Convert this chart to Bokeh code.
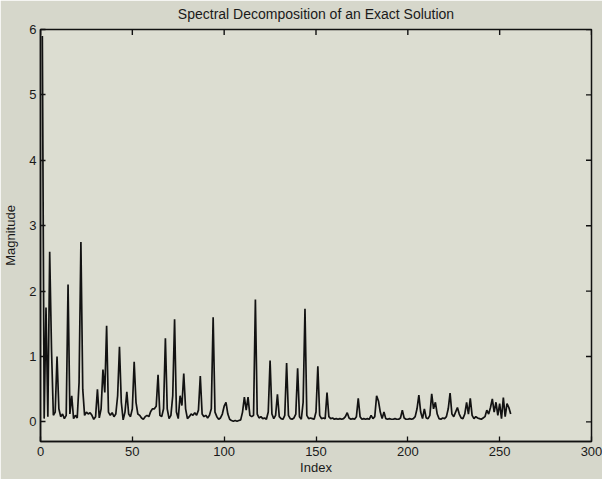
import math
from bokeh.plotting import figure
from bokeh.models import Range1d, FixedTicker, ColumnDataSource
from bokeh.embed import file_html
from bokeh.resources import INLINE

# ---- data -------------------------------------------------------------
index = list(range(1, 257))
magnitude = [
    5.90, 0.05, 1.75, 0.08, 2.60, 1.10, 0.10, 0.15, 1.00, 0.20,
    0.08, 0.12, 0.05, 0.10, 2.10, 0.12, 0.40, 0.05, 0.10, 0.06,
    0.60, 2.75, 0.50, 0.10, 0.15, 0.12, 0.14, 0.10, 0.04, 0.08,
    0.50, 0.06, 0.20, 0.80, 0.45, 1.47, 0.15, 0.10, 0.14, 0.08,
    0.12, 0.40, 1.15, 0.30, 0.03, 0.15, 0.46, 0.12, 0.08, 0.20,
    0.92, 0.30, 0.12, 0.10, 0.06, 0.04, 0.08, 0.10, 0.08, 0.16,
    0.20, 0.20, 0.24, 0.72, 0.10, 0.08, 0.20, 1.28, 0.20, 0.05,
    0.10, 0.40, 1.57, 0.15, 0.05, 0.40, 0.25, 0.74, 0.20, 0.05,
    0.08, 0.12, 0.10, 0.14, 0.10, 0.18, 0.70, 0.12, 0.08, 0.10,
    0.06, 0.10, 0.20, 1.60, 0.15, 0.08, 0.04, 0.06, 0.12, 0.24,
    0.30, 0.12, 0.04, 0.02, 0.01, 0.02, 0.01, 0.02, 0.03, 0.15,
    0.38, 0.18, 0.38, 0.10, 0.08, 0.10, 1.87, 0.12, 0.06, 0.08,
    0.05, 0.06, 0.04, 0.15, 0.94, 0.12, 0.05, 0.10, 0.42, 0.08,
    0.05, 0.04, 0.10, 0.90, 0.10, 0.05, 0.04, 0.06, 0.12, 0.82,
    0.08, 0.04, 0.30, 1.73, 0.10, 0.05, 0.06, 0.05, 0.04, 0.15,
    0.85, 0.10, 0.05, 0.06, 0.05, 0.45, 0.08, 0.05, 0.06, 0.04,
    0.05, 0.04, 0.05, 0.04, 0.05, 0.08, 0.14, 0.06, 0.04, 0.05,
    0.04, 0.08, 0.36, 0.08, 0.04, 0.05, 0.04, 0.05, 0.04, 0.10,
    0.05, 0.08, 0.40, 0.32, 0.15, 0.05, 0.15, 0.05, 0.04, 0.05,
    0.04, 0.04, 0.05, 0.04, 0.04, 0.06, 0.18, 0.06, 0.04, 0.04,
    0.05, 0.04, 0.05, 0.08, 0.20, 0.41, 0.15, 0.05, 0.20, 0.06,
    0.05, 0.10, 0.43, 0.20, 0.30, 0.12, 0.05, 0.04, 0.06, 0.05,
    0.08, 0.20, 0.44, 0.12, 0.08, 0.15, 0.22, 0.12, 0.06, 0.05,
    0.12, 0.30, 0.12, 0.36, 0.10, 0.05, 0.08, 0.06, 0.05, 0.04,
    0.06, 0.08, 0.18, 0.12, 0.22, 0.35, 0.15, 0.30, 0.10, 0.28,
    0.05, 0.37, 0.08, 0.28, 0.22, 0.12,
]
x_ticks = [0, 50, 100, 150, 200, 250, 300]
y_ticks = [0, 1, 2, 3, 4, 5, 6]
x_min, x_max = 0, 300
y_min, y_max = -0.3, 6

title_text = "Spectral Decomposition of an Exact Solution"
x_label = "Index"
y_label = "Magnitude"

# ---- figure -----------------------------------------------------------
FONT = "Liberation Sans"
TXT = "#1a1a1a"
OUTER = "#d6d7cb"
INNER = "#dcddd1"

p = figure(
    width=602, height=479,
    x_range=Range1d(x_min, x_max), y_range=Range1d(y_min, y_max),
    output_backend="svg", toolbar_location=None,
    min_border_left=38, min_border_right=11,
    min_border_top=29, min_border_bottom=38,
    background_fill_color=INNER, border_fill_color=OUTER,
)
p.title.text = title_text
p.title.align = "center"
p.title.vertical_align = "top"
p.title.text_font = FONT
p.title.text_font_size = "14px"
p.title.text_font_style = "normal"
p.title.text_color = TXT
p.title.standoff = 11

p.outline_line_color = "#111111"
p.outline_line_width = 1.5
p.xgrid.visible = False
p.ygrid.visible = False

for ax, ticks in ((p.xaxis[0], x_ticks), (p.yaxis[0], y_ticks)):
    ax.ticker = FixedTicker(ticks=ticks)
    ax.major_tick_in = 5
    ax.major_tick_out = 0
    ax.minor_tick_line_color = None
    ax.axis_line_color = "#111111"
    ax.axis_line_width = 1.5
    ax.major_tick_line_color = "#111111"
    ax.major_tick_line_width = 1.3
    ax.major_label_text_font = FONT
    ax.major_label_text_color = TXT
    ax.major_label_text_font_size = "13px"
    ax.axis_label_text_font = FONT
    ax.axis_label_text_color = TXT
    ax.axis_label_text_font_style = "normal"
    ax.axis_label_text_font_size = "13px"

xa = p.xaxis[0]
xa.axis_label = x_label
xa.major_label_standoff = 5
xa.axis_label_standoff = 1

ya = p.yaxis[0]
ya.axis_label = y_label
ya.major_label_standoff = 4
ya.axis_label_standoff = 8

# inward ticks on the top and right edges of the box (clipped to the frame)
p.scatter(x=x_ticks, y=[y_max] * len(x_ticks), marker="dash", angle=math.pi / 2,
          size=11, line_color="#111111", line_width=1.4)
p.scatter(x=[x_max] * len(y_ticks), y=y_ticks, marker="dash",
          size=11, line_color="#111111", line_width=1.4)

src = ColumnDataSource(dict(x=index, y=magnitude))
p.line("x", "y", source=src, line_color="#121212", line_width=1.7)

open("out.html", "w").write(file_html(p, INLINE))
